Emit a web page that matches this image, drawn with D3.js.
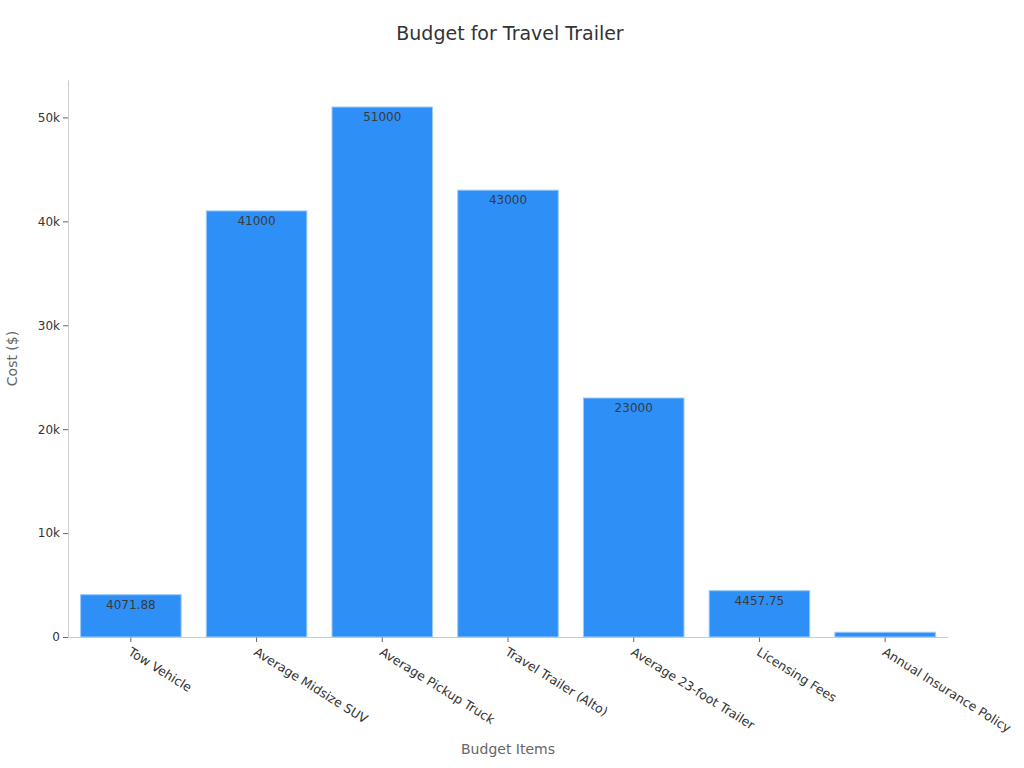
<!DOCTYPE html>
<html>
<head>
<meta charset="utf-8">
<script src="https://cdn.jsdelivr.net/npm/d3@7"></script>
<style>
  body { margin: 0; background: #fff; }
  text { font-family: "DejaVu Sans", sans-serif; }
</style>
</head>
<body>
<div id="chart"></div>
<script>
const categories = ["Tow Vehicle", "Average Midsize SUV", "Average Pickup Truck", "Travel Trailer (Alto)",
  "Average 23-foot Trailer", "Licensing Fees", "Annual Insurance Policy"]
const costs = [4071.88, 41000, 51000, 43000, 23000, 4457.75, 458.33]
const yTicks = [0, 10000, 20000, 30000, 40000, 50000]

const width = 1024, height = 768
const margin = { top: 80, right: 76, bottom: 131, left: 68 }

const svg = d3.select("#chart").append("svg")
  .attr("width", width)
  .attr("height", height)

const x = d3.scaleBand()
  .domain(categories)
  .range([margin.left, width - margin.right])
  .paddingInner(0.2)
  .paddingOuter(0.1)

const y = d3.scaleLinear()
  .domain([0, 53600])
  .range([height - margin.bottom, margin.top])

// Title
svg.append("text")
  .attr("x", width / 2 - 2)
  .attr("y", 40)
  .attr("text-anchor", "middle")
  .style("font-size", "19px")
  .style("fill", "#333")
  .text("Budget for Travel Trailer")

// Y axis
const yAxis = svg.append("g")
  .attr("transform", `translate(${margin.left},0)`)
  .call(d3.axisLeft(y).tickValues(yTicks).tickSize(5).tickSizeOuter(0)
    .tickFormat(d => d === 0 ? "0" : (d / 1000) + "k"))
yAxis.select(".domain").attr("stroke", "#ccc")
yAxis.selectAll(".tick line").attr("stroke", "#666")
yAxis.selectAll(".tick text").style("font-size", "12px").style("fill", "#333")
  .style("font-family", "DejaVu Sans")

// X axis
const xAxis = svg.append("g")
  .attr("transform", `translate(0,${height - margin.bottom})`)
  .call(d3.axisBottom(x).tickSize(5).tickSizeOuter(0))
xAxis.select(".domain").attr("stroke", "#ccc")
xAxis.selectAll(".tick line").attr("stroke", "#666")
xAxis.selectAll(".tick text")
  .style("font-size", "12.5px").style("fill", "#333").style("font-family", "DejaVu Sans")
  .attr("text-anchor", "start")
  .attr("transform", "translate(7,4) rotate(32)")
  .attr("dy", "0.71em")
  .attr("x", -2)
  .attr("y", 8)

// Bars
const bars = svg.append("g")
bars.selectAll("rect")
  .data(costs)
  .join("rect")
  .attr("x", (d, i) => x(categories[i]))
  .attr("y", d => y(d))
  .attr("width", x.bandwidth())
  .attr("height", d => y(0) - y(d))
  .attr("fill", "#2e90f7")
  .attr("stroke", "#9ccaf9")
  .attr("stroke-width", 1)

// Clip paths so labels stay inside their bars
const defs = svg.append("defs")
costs.forEach((d, i) => {
  defs.append("clipPath").attr("id", "clip" + i)
    .append("rect")
    .attr("x", x(categories[i]))
    .attr("y", y(d))
    .attr("width", x.bandwidth())
    .attr("height", y(0) - y(d))
})

bars.selectAll("text")
  .data(costs)
  .join("text")
  .attr("clip-path", (d, i) => `url(#clip${i})`)
  .attr("x", (d, i) => x(categories[i]) + x.bandwidth() / 2)
  .attr("y", d => y(d) + 14)
  .attr("text-anchor", "middle")
  .style("font-size", "12px")
  .style("fill", "#3a3a3a")
  .text(d => d)

// Axis titles
svg.append("text")
  .attr("x", (margin.left + width - margin.right) / 2)
  .attr("y", 754)
  .attr("text-anchor", "middle")
  .style("font-size", "14px")
  .style("fill", "#666")
  .text("Budget Items")

svg.append("text")
  .attr("transform", `translate(17,${(margin.top + height - margin.bottom) / 2}) rotate(-90)`)
  .attr("text-anchor", "middle")
  .style("font-size", "14px")
  .style("fill", "#666")
  .text("Cost ($)")
</script>
</body>
</html>
